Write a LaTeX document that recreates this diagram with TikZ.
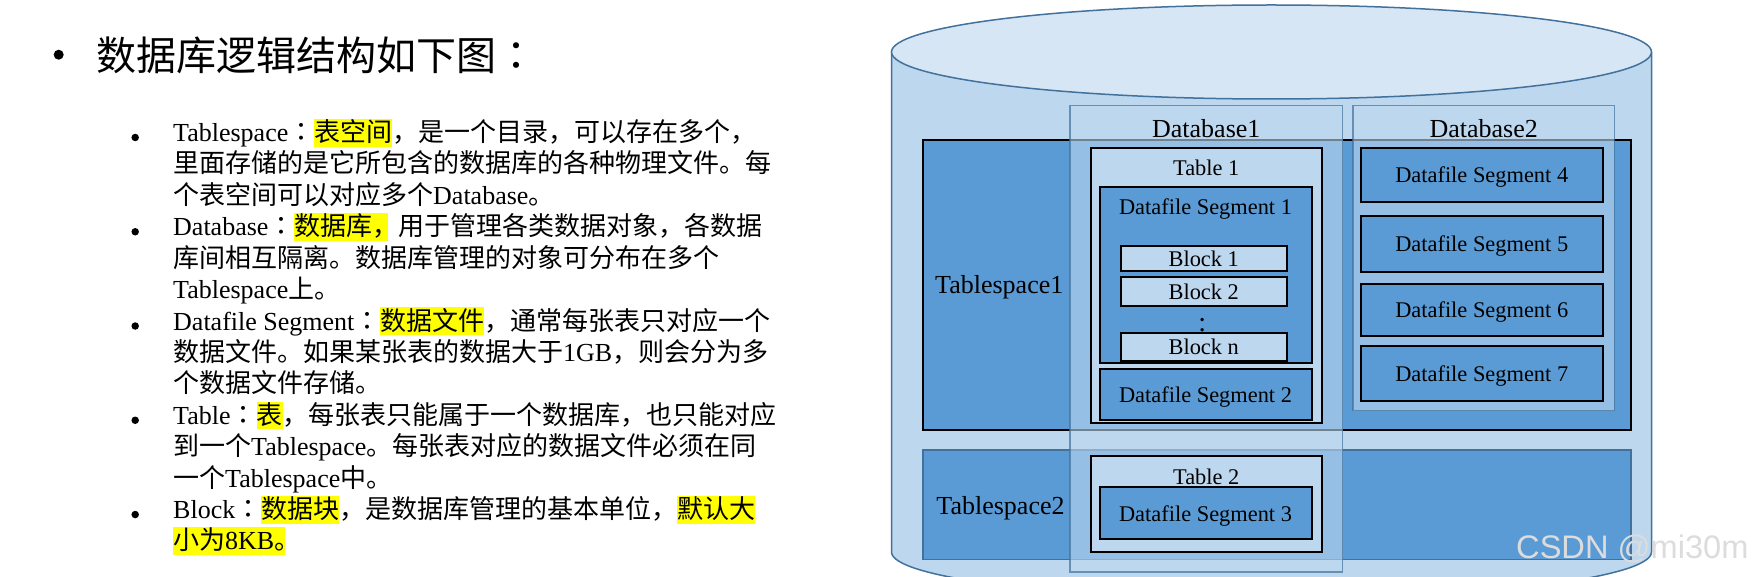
\documentclass[tikz,border=0pt]{standalone}
\usepackage{fontspec}
\setmainfont{Liberation Serif}
\newfontfamily\zhfont{Noto Sans CJK SC}
\newfontfamily\zhtcfont{Noto Sans CJK TC}
\newfontfamily\wmfont{Liberation Sans}
\usetikzlibrary{positioning}
\definecolor{tsblue}{HTML}{5B9BD5}
\definecolor{lightblue}{HTML}{BDD7EE}
\definecolor{topblue}{HTML}{D7E6F4}
\definecolor{edgeblue}{HTML}{41719C}
\definecolor{hlyellow}{HTML}{FFFF00}
\definecolor{wmgray}{HTML}{DCDCDC}
\newcommand\zh[1]{{\zhfont #1}}
\newcommand\zhcolon{{\zhtcfont ：}}
\newcommand\hl[1]{{\setlength{\fboxsep}{0pt}\colorbox{hlyellow}{\rule[-0.2em]{0pt}{1.07em}#1}}}
\tikzstyle{title} = [anchor=base west, inner sep=0pt, font=\zhfont\fontsize{40pt}{48pt}\selectfont]
\tikzstyle{txtline} = [anchor=base west, inner sep=0pt, font=\fontsize{26pt}{31.4pt}\selectfont]
\tikzstyle{dot} = [circle, fill=black, inner sep=0pt, minimum size=7.5pt]
\tikzstyle{cylline} = [draw=edgeblue, line width=1.5pt]
\tikzstyle{tsbox} = [draw=black, line width=2pt, fill=tsblue, inner sep=0pt]
\tikzstyle{tsbox2} = [draw=edgeblue, line width=1.5pt, fill=tsblue, inner sep=0pt]
\tikzstyle{dbbox} = [draw=edgeblue, line width=1.5pt, draw opacity=0.7, fill=lightblue, fill opacity=0.6, inner sep=0pt]
\tikzstyle{tabbox} = [draw=black, line width=2pt, fill=lightblue, inner sep=0pt]
\tikzstyle{segbox} = [draw=black, line width=2pt, fill=tsblue, inner sep=0pt, font=\fontsize{22.4pt}{26pt}\selectfont, text height=16pt, text depth=0pt]
\tikzstyle{blockbox} = [segbox, fill=lightblue]
\tikzstyle{biglbl} = [inner sep=0pt, anchor=base, font=\fontsize{26pt}{30pt}\selectfont]
\tikzstyle{lbl} = [inner sep=0pt, anchor=base, font=\fontsize{22.4pt}{26pt}\selectfont]
\begin{document}
\begin{tikzpicture}[x=1pt, y=-1pt]
    \useasboundingbox (0,0) rectangle (1757,577);
    \clip (0,0) rectangle (1757,577);

    % left: title and list
    \node [dot, minimum size=10pt] (b0) at (58.7,54.7) {};
    \node [title] (title) at (96,71) {数据库逻辑结构如下图\zhcolon};

    \node [txtline] (l1) at (173,141.5) {Tablespace\zhcolon\zh{\hl{表空间}，是一个目录，可以存在多个，}};
    \node [txtline] (l2) at ([yshift=-31.42pt]l1.base west) {\zh{里面存储的是它所包含的数据库的各种物理文件。每}};
    \node [txtline] (l3) at ([yshift=-31.42pt]l2.base west) {\zh{个表空间可以对应多个}Database\zh{。}};
    \node [txtline] (l4) at ([yshift=-31.42pt]l3.base west) {Database\zhcolon\zh{\hl{数据库\kern0.6em}\kern-0.6em，用于管理各类数据对象，各数据}};
    \node [txtline] (l5) at ([yshift=-31.42pt]l4.base west) {\zh{库间相互隔离。数据库管理的对象可分布在多个}};
    \node [txtline] (l6) at ([yshift=-31.42pt]l5.base west) {Tablespace\zh{上。}};
    \node [txtline] (l7) at ([yshift=-31.42pt]l6.base west) {Datafile Segment\zhcolon\zh{\hl{数据文件}，通常每张表只对应一个}};
    \node [txtline] (l8) at ([yshift=-31.42pt]l7.base west) {\zh{数据文件。如果某张表的数据大于}1GB\zh{，则会分为多}};
    \node [txtline] (l9) at ([yshift=-31.42pt]l8.base west) {\zh{个数据文件存储。}};
    \node [txtline] (l10) at ([yshift=-31.42pt]l9.base west) {Table\zhcolon\zh{\hl{表}，每张表只能属于一个数据库，也只能对应}};
    \node [txtline] (l11) at ([yshift=-31.42pt]l10.base west) {\zh{到一个}Tablespace\zh{。每张表对应的数据文件必须在同}};
    \node [txtline] (l12) at ([yshift=-31.42pt]l11.base west) {\zh{一个}Tablespace\zh{中。}};
    \node [txtline] (l13) at ([yshift=-31.42pt]l12.base west) {Block\zhcolon\zh{\hl{数据块}，是数据库管理的基本单位，\hl{默认大}}};
    \node [txtline] (l14) at ([yshift=-31.42pt]l13.base west) {\hl{\zh{小为}8KB\kern0.4em}\kern-0.4em\zh{。}};

    \node [dot] (b1) at ([xshift=-37.8pt,yshift=4pt]l1.base west) {};
    \node [dot] (b2) at ([xshift=-37.8pt,yshift=4pt]l4.base west) {};
    \node [dot] (b3) at ([xshift=-37.8pt,yshift=4pt]l7.base west) {};
    \node [dot] (b4) at ([xshift=-37.8pt,yshift=4pt]l10.base west) {};
    \node [dot] (b5) at ([xshift=-37.8pt,yshift=4pt]l13.base west) {};

    % cylinder
    \fill [lightblue] (891.5,52) -- (891.5,552) arc[start angle=180, end angle=360, x radius=380pt, y radius=47pt] -- (1651.5,52) -- cycle;
    \draw [cylline] (891.5,52) -- (891.5,552) arc[start angle=180, end angle=360, x radius=380pt, y radius=47pt] -- (1651.5,52);
    \draw [cylline, fill=topblue] (1271.5,52) ellipse[x radius=380pt, y radius=47pt];

    % tablespaces and databases
    \node [tsbox, minimum width=708pt, minimum height=290pt] (ts1) at (1277,285) {};
    \node [tsbox2, minimum width=708pt, minimum height=109.5pt] (ts2) at (1277,504.75) {};
    \node [dbbox, minimum width=272.5pt, minimum height=466.5pt] (db1) at (1206.25,338.75) {};
    \node [dbbox, minimum width=261.3pt, minimum height=305.2pt] (db2) at (1483.65,258.1) {};

    \node [biglbl, anchor=base west] (ts1lbl) at ([xshift=13pt,yshift=-8.5pt]ts1.west) {Tablespace1};
    \node [biglbl, anchor=base west] (ts2lbl) at ([xshift=14pt,yshift=-9.5pt]ts2.west) {Tablespace2};
    \node [biglbl] (db1lbl) at ([yshift=-32.5pt]db1.north) {Database1};
    \node [biglbl] (db2lbl) at ([yshift=-32.5pt]db2.north) {Database2};

    % tables
    \node [tabbox, minimum width=231.5pt, minimum height=275pt] (tab1) at (1206.25,285.8) {};
    \node [lbl] (tab1lbl) at ([yshift=-28.4pt]tab1.north) {Table 1};
    \node [segbox, minimum width=212pt, minimum height=175.8pt] (ds1) at (1205.5,275.4) {};
    \node [lbl] (ds1lbl) at ([yshift=-28.5pt]ds1.north) {Datafile Segment 1};
    \node [blockbox, minimum width=165.5pt, minimum height=25pt] (blk1) at (1203.75,258.5) {Block 1};
    \node [blockbox, minimum width=165.5pt, minimum height=28.7pt] (blk2) at (1203.75,291.65) {Block 2};
    \node [lbl, font=\fontsize{28pt}{30pt}\selectfont] (vdots) at (1202.3,331.8) {:};
    \node [blockbox, minimum width=165.5pt, minimum height=28.3pt] (blkn) at (1203.75,346.85) {Block n};
    \node [segbox, minimum width=212pt, minimum height=50.2pt] (ds2) at (1205.5,394.4) {Datafile Segment 2};

    \node [tabbox, minimum width=231.5pt, minimum height=96pt] (tab2) at (1206.25,504) {};
    \node [lbl] (tab2lbl) at ([yshift=-29pt]tab2.north) {Table 2};
    \node [segbox, minimum width=212pt, minimum height=52pt] (ds3) at (1205.5,513) {Datafile Segment 3};

    \node [segbox, minimum width=242pt, minimum height=53.4pt] (ds4) at (1481.7,175) {Datafile Segment 4};
    \node [segbox, minimum width=242pt, minimum height=55.7pt] (ds5) at (1481.7,243.85) {Datafile Segment 5};
    \node [segbox, minimum width=242pt, minimum height=51.7pt] (ds6) at (1481.7,309.85) {Datafile Segment 6};
    \node [segbox, minimum width=242pt, minimum height=55pt] (ds7) at (1481.7,373.5) {Datafile Segment 7};

    % watermark
    \node [anchor=base west, inner sep=0pt, text=wmgray, font=\wmfont\fontsize{32.6pt}{36pt}\selectfont] (wm) at (1516,558) {CSDN @mi30m};
\end{tikzpicture}
\end{document}
